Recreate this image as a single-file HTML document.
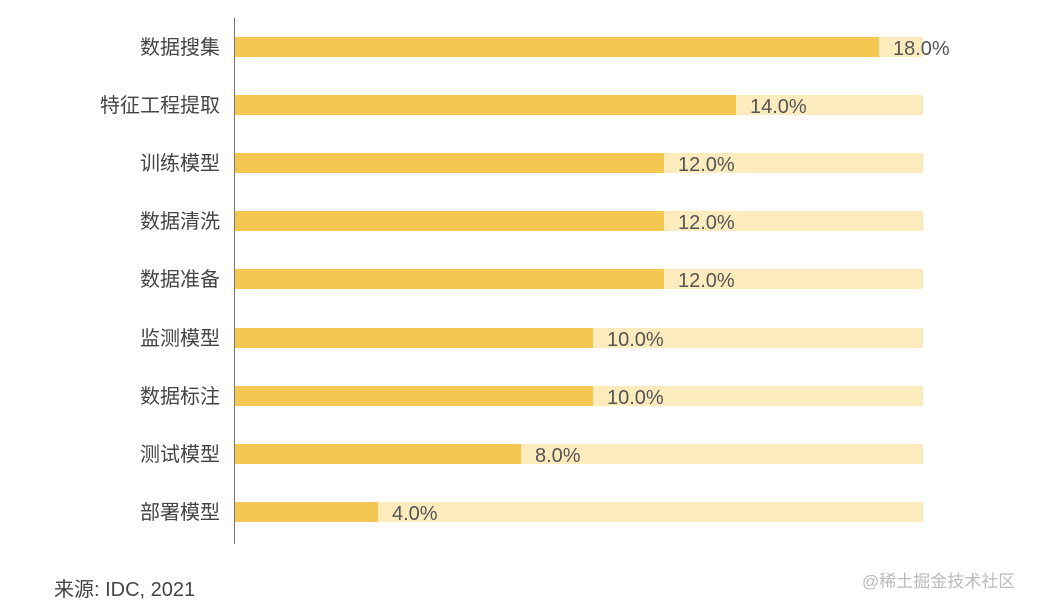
<!DOCTYPE html>
<html><head><meta charset="utf-8"><style>
body{margin:0;width:1043px;height:605px;background:#fff;position:relative;overflow:hidden;font-family:"Liberation Sans","Noto Sans CJK SC",sans-serif;}
.ax{position:absolute;left:234px;top:18px;width:1px;height:526px;background:#777;}
.bg{position:absolute;left:235px;width:688px;height:20px;background:#fcebbd;}
.b{position:absolute;left:235px;height:20px;background:#f3c752;}
.v{position:absolute;font-size:20px;color:#555;line-height:20px;margin-top:2px;}
.c{position:absolute;right:823px;font-size:20px;color:#444;line-height:20px;text-align:right;white-space:nowrap;margin-top:1px;}
.src{position:absolute;left:54px;top:573px;font-size:20px;color:#444;}
.wm{position:absolute;left:862px;top:567px;font-size:17px;color:#bbb;}
</style></head><body>
<div class="ax"></div>
<div class="bg" style="top:37px"></div><div class="b" style="top:37px;width:644px"></div><div class="v" style="top:37px;left:893px">18.0%</div><div class="c" style="top:37px">数据搜集</div>
<div class="bg" style="top:95px"></div><div class="b" style="top:95px;width:501px"></div><div class="v" style="top:95px;left:750px">14.0%</div><div class="c" style="top:95px">特征工程提取</div>
<div class="bg" style="top:153px"></div><div class="b" style="top:153px;width:429px"></div><div class="v" style="top:153px;left:678px">12.0%</div><div class="c" style="top:153px">训练模型</div>
<div class="bg" style="top:211px"></div><div class="b" style="top:211px;width:429px"></div><div class="v" style="top:211px;left:678px">12.0%</div><div class="c" style="top:211px">数据清洗</div>
<div class="bg" style="top:269px"></div><div class="b" style="top:269px;width:429px"></div><div class="v" style="top:269px;left:678px">12.0%</div><div class="c" style="top:269px">数据准备</div>
<div class="bg" style="top:328px"></div><div class="b" style="top:328px;width:358px"></div><div class="v" style="top:328px;left:607px">10.0%</div><div class="c" style="top:328px">监测模型</div>
<div class="bg" style="top:386px"></div><div class="b" style="top:386px;width:358px"></div><div class="v" style="top:386px;left:607px">10.0%</div><div class="c" style="top:386px">数据标注</div>
<div class="bg" style="top:444px"></div><div class="b" style="top:444px;width:286px"></div><div class="v" style="top:444px;left:535px">8.0%</div><div class="c" style="top:444px">测试模型</div>
<div class="bg" style="top:502px"></div><div class="b" style="top:502px;width:143px"></div><div class="v" style="top:502px;left:392px">4.0%</div><div class="c" style="top:502px">部署模型</div>
<div class="src">来源: IDC, 2021</div>
<div class="wm">@稀土掘金技术社区</div>
</body></html>
